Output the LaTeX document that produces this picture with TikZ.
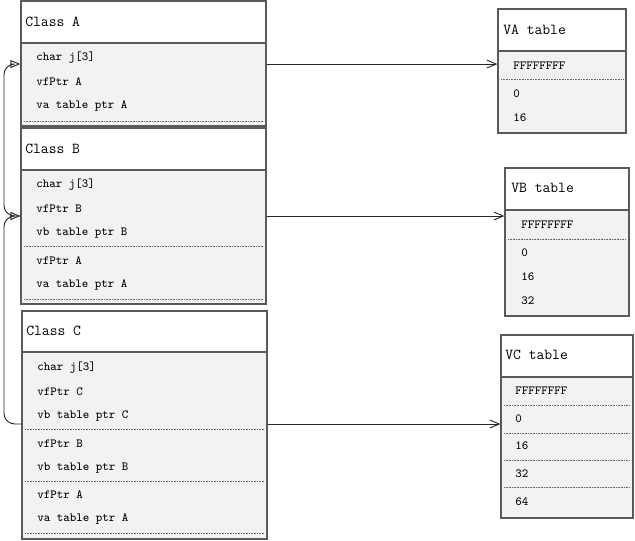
\documentclass[tikz,border=0pt]{standalone}
\usetikzlibrary{arrows.meta,fit}
\definecolor{bodygray}{HTML}{F2F2F2}
\definecolor{edgegray}{HTML}{5A5A5A}
\tikzset{
  bodyfill/.style={fill=bodygray},
  sepline/.style={draw=edgegray, line width=0.9pt},
  boxline/.style={draw=edgegray, line width=1pt},
  dotline/.style={draw=black!60, line width=0.6pt, dash pattern=on 0.6pt off 0.6pt},
  headtext/.style={anchor=west, inner sep=0pt, font=\ttfamily\fontsize{11.4}{13}\selectfont},
  rowtext/.style={anchor=west, inner sep=0pt, font=\ttfamily\fontsize{9.3}{11}\selectfont},
  inh/.style={draw=black!85, line width=0.7pt, rounded corners=8pt, -{Triangle[open,length=7.5pt,width=6pt]}},
  assoc/.style={draw=black!85, line width=0.7pt, -{Straight Barb[length=7pt,width=6pt]}}
}
\newcommand\umlbox[6]{%
  \fill[bodyfill] (#2,#3) rectangle (#4,#5);
  \fill[white] (#2,#3) rectangle (#4,#6);
  \draw[sepline] (#2,#6) -- (#4,#6);
  \node[fit={(#2,#3) (#4,#5)}, inner sep=0pt, boxline] (#1) {};
}
\begin{document}
\begin{tikzpicture}[x=0.75pt,y=-0.75pt]
\useasboundingbox (0,0) rectangle (635,540);

% Class A
\umlbox{A}{21}{1}{266}{126}{43}
\node[headtext] (Ah) at (25,22) {Class A};
\node[rowtext] (A1) at (36,58) {char j[3]};
\node[rowtext] (A2) at (36,82) {vfPtr A};
\node[rowtext] (A3) at (36,106) {va table ptr A};
\draw[dotline] (24,121) -- (263,121);

% Class B
\umlbox{B}{21}{128}{266}{304}{170}
\node[headtext] (Bh) at (25,149) {Class B};
\node[rowtext] (B1) at (36,185) {char j[3]};
\node[rowtext] (B2) at (36,209) {vfPtr B};
\node[rowtext] (B3) at (36,233) {vb table ptr B};
\draw[dotline] (24,246) -- (263,246);
\node[rowtext] (B4) at (36,261) {vfPtr A};
\node[rowtext] (B5) at (36,285) {va table ptr A};
\draw[dotline] (24,299) -- (263,299);

% Class C
\umlbox{C}{22}{311}{267}{539}{352}
\node[headtext] (Ch) at (26,331) {Class C};
\node[rowtext] (C1) at (37,368) {char j[3]};
\node[rowtext] (C2) at (37,392) {vfPtr C};
\node[rowtext] (C3) at (37,416) {vb table ptr C};
\draw[dotline] (25,429) -- (264,429);
\node[rowtext] (C4) at (37,444) {vfPtr B};
\node[rowtext] (C5) at (37,468) {vb table ptr B};
\draw[dotline] (25,481) -- (264,481);
\node[rowtext] (C6) at (37,495) {vfPtr A};
\node[rowtext] (C7) at (37,519) {va table ptr A};
\draw[dotline] (25,533) -- (264,533);

% VA table
\umlbox{VA}{498}{9}{626}{133}{51}
\node[headtext] (VAh) at (503,30) {VA table};
\node[rowtext] (VA1) at (513,66) {FFFFFFFF};
\draw[dotline] (501,79) -- (623,79);
\node[rowtext] (VA2) at (513,94) {0};
\node[rowtext] (VA3) at (513,118) {16};

% VB table
\umlbox{VB}{505}{168}{629}{316}{210}
\node[headtext] (VBh) at (511,188) {VB table};
\node[rowtext] (VB1) at (521,225) {FFFFFFFF};
\draw[dotline] (508,239) -- (626,239);
\node[rowtext] (VB2) at (521,253) {0};
\node[rowtext] (VB3) at (521,277) {16};
\node[rowtext] (VB4) at (521,301) {32};

% VC table
\umlbox{VC}{501}{335}{633}{518}{377}
\node[headtext] (VCh) at (505,355) {VC table};
\node[rowtext] (VC1) at (515,391) {FFFFFFFF};
\draw[dotline] (504,405) -- (630,405);
\node[rowtext] (VC2) at (515,419) {0};
\draw[dotline] (504,433) -- (630,433);
\node[rowtext] (VC3) at (515,446) {16};
\draw[dotline] (504,460) -- (630,460);
\node[rowtext] (VC4) at (515,474) {32};
\draw[dotline] (504,487) -- (630,487);
\node[rowtext] (VC5) at (515,502) {64};

% pointers to tables
\draw[assoc] (A.east |- 0,64) -- (VA.west |- 0,64);
\draw[assoc] (B.east |- 0,216) -- (VB.west |- 0,216);
\draw[assoc] (C.east |- 0,424) -- (VC.west |- 0,424);

% inheritance
\draw[inh] (B.west |- 0,216) -- (4,216) -- (4,64) -- (A.west |- 0,64);
\draw[inh] (C.west |- 0,424) -- (4,424) -- (4,216) -- (B.west |- 0,216);
\end{tikzpicture}
\end{document}
